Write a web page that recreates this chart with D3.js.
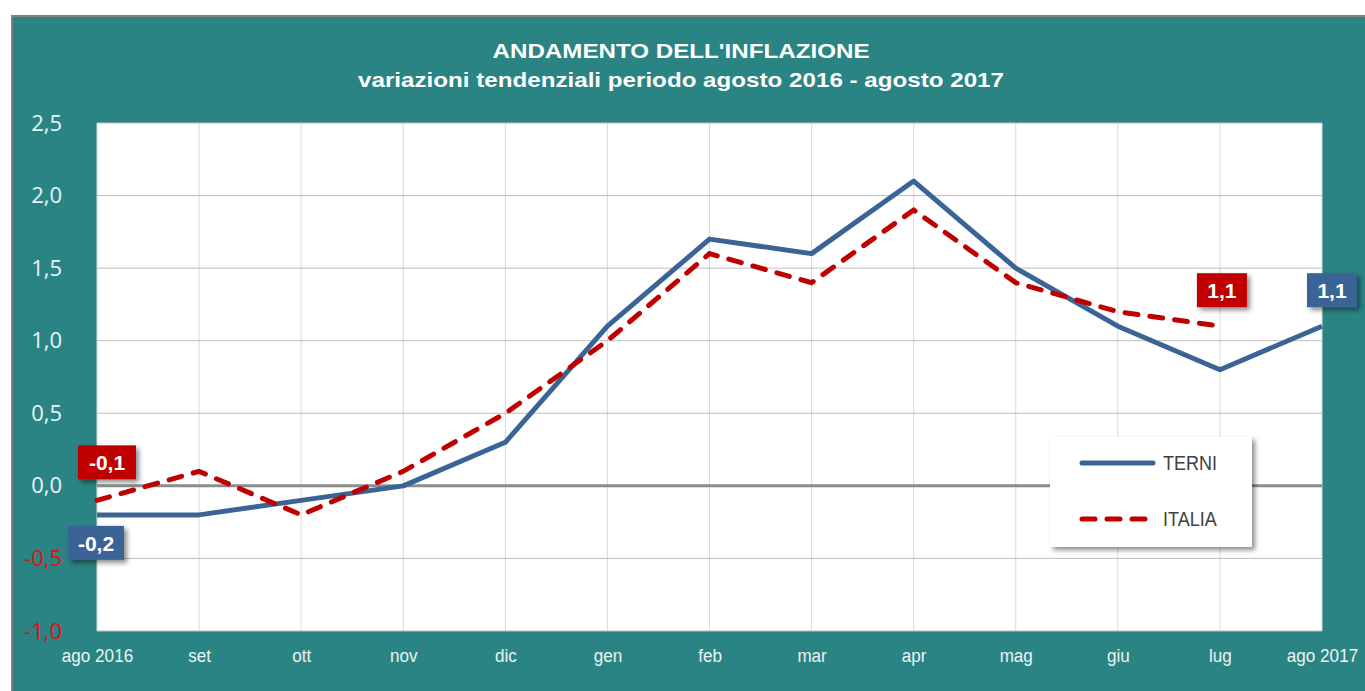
<!DOCTYPE html>
<html>
<head>
<meta charset="utf-8">
<script src="https://cdn.jsdelivr.net/npm/d3@7"></script>
<style>
body { margin: 0; background: #fff; }
svg { display: block; }
</style>
</head>
<body>
<div id="draw"></div>
<script>
// dati
var months = ['ago 2016', 'set', 'ott', 'nov', 'dic', 'gen', 'feb', 'mar', 'apr', 'mag', 'giu', 'lug', 'ago 2017'];
var terni = [-0.2, -0.2, -0.1, 0.0, 0.3, 1.1, 1.7, 1.6, 2.1, 1.5, 1.1, 0.8, 1.1];
var italia = [-0.1, 0.1, -0.2, 0.1, 0.5, 1.0, 1.6, 1.4, 1.9, 1.4, 1.2, 1.1, null];
var yTicks = [-1.0, -0.5, 0.0, 0.5, 1.0, 1.5, 2.0, 2.5];
var titles = ["ANDAMENTO DELL'INFLAZIONE", 'variazioni tendenziali periodo agosto 2016 - agosto 2017'];

var W = 1365, H = 691;
var plot = { left: 97, right: 1322, top: 123, bottom: 631 };
var blue = '#3b6496', red = '#c00000', teal = '#2a8483';
var fmt = function (v) { return d3.format('.1f')(v).replace('.', ',').replace('\u2212', '-'); };

var svg = d3.select('#draw').append('svg').attr('width', W).attr('height', H);

var defs = svg.append('defs');
var sh = defs.append('filter').attr('id', 'shadow').attr('x', '-20%').attr('y', '-20%').attr('width', '150%').attr('height', '160%');
sh.append('feDropShadow').attr('dx', 3).attr('dy', 3).attr('stdDeviation', 2.5).attr('flood-color', '#000').attr('flood-opacity', 0.45);

// cornice
svg.append('rect').attr('x', 12).attr('y', 16).attr('width', W).attr('height', H)
	.attr('fill', teal).attr('stroke', '#808080').attr('stroke-width', 2);

var x = d3.scalePoint().domain(months).range([plot.left, plot.right]);
var y = d3.scaleLinear().domain([-1, 2.5]).range([plot.bottom, plot.top]);

svg.append('rect').attr('x', plot.left).attr('y', plot.top)
	.attr('width', plot.right - plot.left).attr('height', plot.bottom - plot.top).attr('fill', '#fff');

// griglia
svg.append('g').selectAll('line').data(months).enter().append('line')
	.attr('x1', function (d) { return x(d); }).attr('x2', function (d) { return x(d); })
	.attr('y1', plot.top).attr('y2', plot.bottom)
	.attr('stroke', '#d9d9d9').attr('stroke-width', 1);
svg.append('g').selectAll('line').data(yTicks).enter().append('line')
	.attr('x1', plot.left).attr('x2', plot.right)
	.attr('y1', function (d) { return y(d); }).attr('y2', function (d) { return y(d); })
	.attr('stroke', function (d) { return d === 0 ? '#8c8c8c' : '#bfbfbf'; })
	.attr('stroke-width', function (d) { return d === 0 ? 3 : 1; });

// assi
var yAxis = svg.append('g').attr('transform', 'translate(' + (plot.left - 32) + ',0)')
	.call(d3.axisLeft(y).tickValues(yTicks).tickFormat(fmt).tickSize(0));
yAxis.select('.domain').remove();
yAxis.selectAll('text')
	.style('font-family', '"Open Sans", sans-serif').style('font-size', '22px')
	.attr('fill', function (d) { return d < 0 ? '#e01010' : '#eaf4f3'; });

var xAxis = svg.append('g').attr('transform', 'translate(0,' + plot.bottom + ')')
	.call(d3.axisBottom(x).tickSize(0).tickPadding(18));
xAxis.select('.domain').remove();
xAxis.selectAll('text')
	.style('font-family', '"Liberation Sans", Arial, sans-serif').style('font-size', '19px')
	.attr('transform', 'scale(0.9,1)')
	.attr('fill', '#eaf4f3');

// linee
var line = d3.line()
	.defined(function (d) { return d !== null; })
	.x(function (d, i) { return x(months[i]); })
	.y(function (d) { return y(d); });

svg.append('path').datum(terni).attr('d', line)
	.attr('fill', 'none').attr('stroke', blue).attr('stroke-width', 5).attr('stroke-linejoin', 'round');
svg.append('path').datum(italia).attr('d', line)
	.attr('fill', 'none').attr('stroke', red).attr('stroke-width', 5)
	.attr('stroke-dasharray', '13,12').attr('stroke-linecap', 'round');

// titolo
var tw = [377, 646];
svg.append('g').selectAll('text').data(titles).enter().append('text')
	.attr('x', 681).attr('y', function (d, i) { return 58 + i * 29; })
	.attr('text-anchor', 'middle').attr('fill', '#fff')
	.attr('textLength', function (d, i) { return tw[i]; })
	.attr('lengthAdjust', 'spacingAndGlyphs')
	.style('font-family', '"Liberation Sans", Arial, sans-serif')
	.style('font-weight', 'bold').style('font-size', '21px')
	.text(function (d) { return d; });

// etichette dei valori
var lastIt = 11;
var labels = [
	{ v: italia[0], i: 0, dx: 10, dy: -38, c: red, w: 58 },
	{ v: terni[0], i: 0, dx: -1, dy: 28, c: blue, w: 56 },
	{ v: italia[lastIt], i: lastIt, dx: 2, dy: -36, c: red, w: 50 },
	{ v: terni[12], i: 12, dx: 10, dy: -36, c: blue, w: 50 }
];
var lg = svg.append('g').selectAll('g').data(labels).enter().append('g')
	.attr('transform', function (d) { return 'translate(' + (x(months[d.i]) + d.dx) + ',' + (y(d.v) + d.dy) + ')'; });
lg.append('rect').attr('x', function (d) { return -d.w / 2; }).attr('y', -17)
	.attr('width', function (d) { return d.w; }).attr('height', 34)
	.attr('fill', function (d) { return d.c; }).attr('filter', 'url(#shadow)');
lg.append('text').attr('text-anchor', 'middle').attr('y', 8).attr('fill', '#fff')
	.style('font-family', '"Liberation Sans", Arial, sans-serif').style('font-weight', 'bold').style('font-size', '21px')
	.text(function (d) { return fmt(d.v); });

// legenda
var leg = svg.append('g').attr('transform', 'translate(1050,437)');
leg.append('rect').attr('width', 202).attr('height', 110).attr('fill', '#fff').attr('filter', 'url(#shadow)');
var items = [{ n: 'TERNI', c: blue, dash: null }, { n: 'ITALIA', c: red, dash: '13,12' }];
var li = leg.selectAll('.it').data(items).enter().append('g')
	.attr('transform', function (d, i) { return 'translate(0,' + (26 + i * 56) + ')'; });
li.append('line').attr('x1', 32).attr('x2', 103)
	.attr('stroke', function (d) { return d.c; }).attr('stroke-width', 5).attr('stroke-linecap', 'round')
	.attr('stroke-dasharray', function (d) { return d.dash; });
li.append('text').attr('transform', 'translate(113,7) scale(0.9,1)').attr('fill', '#404040')
	.style('font-family', '"Liberation Sans", Arial, sans-serif').style('font-size', '20px')
	.text(function (d) { return d.n; });
</script>
</body>
</html>
